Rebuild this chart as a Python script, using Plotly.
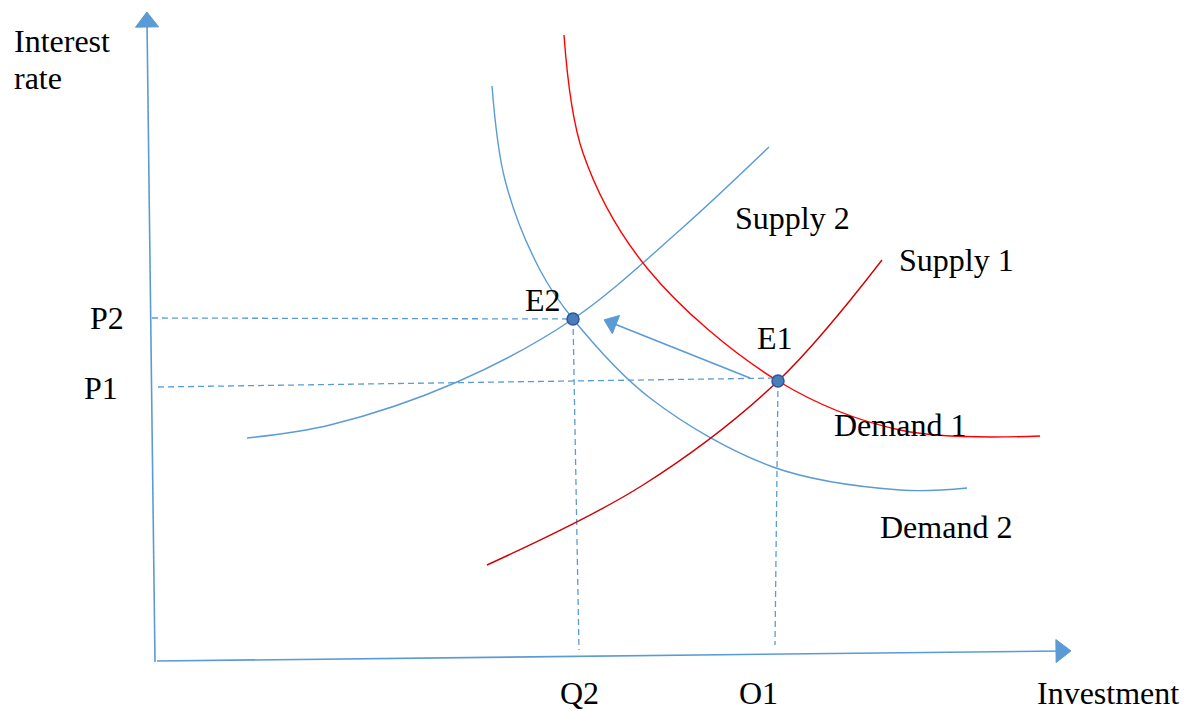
import plotly.graph_objects as go

# ---- data (pixel-space diagram coordinates) ----
supply2_x = [247, 330, 457, 573, 680, 769]
supply2_y = [438, 425, 382, 319, 230, 147]

demand2_x = [492, 505, 540, 573, 650, 773, 900, 967]
demand2_y = [86, 180, 270, 319, 398, 467, 490, 488]

demand1_x = [564, 583, 647, 778, 900, 1040]
demand1_y = [35, 153, 268, 381, 430, 436]

supply1_x = [487, 643, 778, 882]
supply1_y = [565, 485, 381, 260]

eq_x = [573, 778]
eq_y = [319, 381]

BLUE = "#5B9BD5"
RED = "#FF0000"
DRED = "#D00000"
FONT = "Liberation Serif"

fig = go.Figure()

def line(x, y, color, width=1.4, dash=None, shape="linear"):
    fig.add_trace(go.Scatter(x=x, y=y, mode="lines", hoverinfo="skip",
                             line=dict(color=color, width=width, dash=dash, shape=shape,
                                       smoothing=1.0)))

def arrow(x, y, color, size):
    fig.add_trace(go.Scatter(x=x, y=y, mode="lines+markers", hoverinfo="skip",
                             line=dict(color=color, width=1.6),
                             marker=dict(symbol="triangle-up", angleref="previous", size=[0, size],
                                         color=color, opacity=1, line=dict(width=1, color=color))))

# axes
arrow([155, 147], [662, 22], BLUE, 20)
arrow([157, 1061], [661, 651], BLUE, 20)

# dashed guides
DASH = "6px,4px"
line([152, eq_x[0]], [318, eq_y[0]], BLUE, 1.3, DASH)
line([158, eq_x[1]], [387, eq_y[1] - 3], BLUE, 1.3, DASH)
line([eq_x[0], 579], [eq_y[0], 650], BLUE, 1.3, DASH)
line([eq_x[1], 775], [eq_y[1], 645], BLUE, 1.3, DASH)

# curves
line(supply2_x, supply2_y, BLUE, 1.4, shape="spline")
line(demand2_x, demand2_y, BLUE, 1.4, shape="spline")
line(demand1_x, demand1_y, RED, 1.4, shape="spline")
line(supply1_x, supply1_y, DRED, 1.4, shape="spline")

# shift arrow
arrow([750, 612], [378, 323], BLUE, 17)

# equilibrium points
fig.add_trace(go.Scatter(x=eq_x, y=eq_y, mode="markers", hoverinfo="skip",
                         marker=dict(size=12, color="#4A7EBB", line=dict(color="#2F5597", width=1.5))))

texts = [
    ("Interest", 12, 41), ("rate", 12, 78),
    ("P2", 88, 318), ("P1", 82, 388),
    ("E2", 523, 300), ("E1", 755, 338),
    ("Supply 2", 733, 218), ("Supply 1", 897, 260),
    ("Demand 1", 832, 425), ("Demand 2", 878, 527),
    ("Q2", 558, 693), ("O1", 737, 693), ("Investment", 1035, 693),
]
for t, x, y in texts:
    fig.add_annotation(x=x, y=y, text=t, showarrow=False, xanchor="left", yanchor="middle",
                       font=dict(family=FONT, size=32, color="black"))

fig.update_layout(
    width=1197, height=711, margin=dict(l=0, r=0, t=0, b=0),
    plot_bgcolor="white", paper_bgcolor="white", showlegend=False,
    xaxis=dict(range=[0, 1197], visible=False, fixedrange=True),
    yaxis=dict(range=[711, 0], visible=False, fixedrange=True),
)
fig.write_html("out.html", config={"displayModeBar": False},
               post_script="document.body.style.margin='0';document.body.style.overflow='hidden';")
